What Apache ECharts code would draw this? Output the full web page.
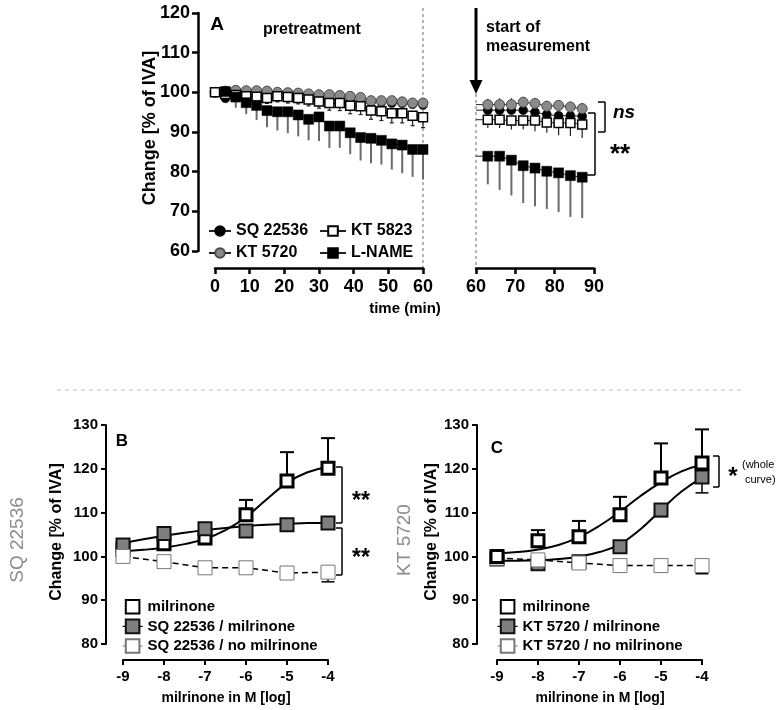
<!DOCTYPE html>
<html><head><meta charset="utf-8">
<script src="https://cdn.jsdelivr.net/npm/echarts@6/dist/echarts.min.js"></script>
<style>html,body{margin:0;padding:0;background:#fff}#c{width:784px;height:710px}</style>
</head><body><div id="c"></div>
<script>
// ---------- Panel A data ----------
const tLeft = [0,3,6,9,12,15,18,21,24,27,30,33,36,39,42,45,48,51,54,57,60];
const sqLeft = [100,98.5,99.4,99.3,99.2,99.0,98.9,98.7,98.6,98.4,98.3,98.2,98.0,97.9,97.8,97.6,97.5,97.3,97.2,97.0,96.8];
const kt5720Left = [100,100.3,100.5,100.4,100.4,100.3,100.0,99.9,99.8,99.6,99.4,99.4,99.2,99.0,98.7,97.9,97.9,97.9,97.6,97.3,97.3];
const kt5823Left = [100,99.6,99.3,99.0,98.9,98.6,99.0,98.8,98.6,98.2,97.7,97.3,97.3,96.6,96.5,95.4,95.2,94.7,94.7,94.1,93.7];
const kt5823LeftLow = [null,98.6,98.2,97.8,97.6,97.2,97.6,97.3,97.1,96.6,96.0,95.5,95.4,94.6,94.4,93.2,92.9,92.3,92.3,91.6,91.1];
const lNameLeft = [null,100.2,98.8,97.4,96.7,95.4,95.1,95.1,94.3,93.2,93.8,91.5,91.5,89.8,88.6,88.4,87.9,87.0,86.7,85.6,85.6];
const lNameLeftLow = [null,98.3,96.1,94.5,93.0,91.2,90.4,89.7,88.9,87.9,87.7,86.0,86.0,84.4,82.8,82.1,81.8,80.5,79.6,78.7,78.0];

const tRight = [60,63,66,69,72,75,78,81,84,87];
const sqRight = [95.5,95.5,95.5,95.5,95.5,95.0,94.4,94.1,94.1,94.0];
const kt5720Right = [96.9,96.9,96.9,96.9,97.5,97.2,96.5,96.7,96.3,95.9];
const kt5720RightHigh = [null,98.3,98.5,98.5,98.9,98.4,97.9,98.0,97.7,97.3];
const kt5823Right = [93.1,93.1,93.1,92.9,92.9,92.9,92.4,92.3,92.3,91.9];
const kt5823RightLow = [null,91.0,91.0,90.6,90.6,90.2,89.8,89.2,89.0,88.5];
const lNameRight = [83.9,83.9,83.9,82.9,81.5,80.9,80.1,79.7,79.0,78.6];
const lNameRightLow = [null,76.8,75.4,74.0,72.1,71.3,70.6,69.8,68.6,68.3];

const xTicksA = [0,10,20,30,40,50,60];
const yTicksA = [60,70,80,90,100,110,120];

// ---------- Panels B / C data ----------
const logM = [-9,-8,-7,-6,-5,-4];
const fitX = [-9,-8.5,-8,-7.5,-7,-6.5,-6,-5.5,-5,-4.5,-4];

const milB = [101.5,102.9,104.2,109.5,117.2,120.1];
const milBHigh = [null,null,null,112.9,123.8,127.0];
const sqMilB = [102.6,105.2,106.3,105.8,107.2,107.6];
const sqNoB = [100.0,98.8,97.4,97.4,96.2,96.4];
const sqNoBLow = [null,null,null,null,94.8,94.2];
const milBFit = [101.2,101.5,102.0,102.8,104.0,106.0,109.0,113.0,116.8,119.2,120.4];
const sqMilBFit = [103.0,103.9,104.7,105.4,106.0,106.5,106.9,107.2,107.4,107.6,107.7];

const milC = [100.0,103.6,104.5,109.5,117.9,121.3];
const milCHigh = [null,106.0,108.1,113.6,125.8,129.0];
const ktMilC = [99.4,98.3,98.8,102.2,110.6,118.1];
const ktMilCLow = [null,null,null,null,109.1,114.5];
const ktNoC = [99.6,99.2,98.5,97.9,97.9,97.9];
const ktNoCLow = [null,null,null,null,null,96.1];
const milCFit = [100.7,101.0,101.6,102.6,104.4,107.0,110.2,113.8,116.9,119.4,121.0];
const ktMilCFit = [99.0,99.0,99.1,99.4,100.0,101.0,102.8,106.2,110.6,114.8,118.0];

const FONT = '"Liberation Sans", Arial, sans-serif';

const pairs = (xs, ys) => xs.map((x,i)=> ys[i]==null ? null : [x, ys[i]]).filter(Boolean);
const errPairs = (xs, ys, ends) => xs.map((x,i)=> ends[i]==null ? null : [x, ys[i], ends[i]]).filter(Boolean);

function errSeries(gi, data, color, width, cap) {
  return {
    type:'custom', xAxisIndex:gi, yAxisIndex:gi, data, clip:false, silent:true,
    encode:{x:0, y:[1,2]},
    renderItem(params, api){
      const x=api.value(0), v=api.value(1), e=api.value(2);
      const p0=api.coord([x,v]), p1=api.coord([x,e]);
      const ch=[{type:'line', shape:{x1:p0[0],y1:p0[1],x2:p1[0],y2:p1[1]}, style:{stroke:color, lineWidth:width}}];
      if(cap) ch.push({type:'line', shape:{x1:p1[0]-cap/2,y1:p1[1],x2:p1[0]+cap/2,y2:p1[1]}, style:{stroke:color, lineWidth:width}});
      return {type:'group', children:ch};
    }
  };
}

function aSeries(name, gi, xs, ys, symbol, size, itemStyle, hideAt60) {
  return {
    name, type:'line', xAxisIndex:gi, yAxisIndex:gi, data:pairs(xs, ys), clip:false,
    symbol, symbolSize: hideAt60 ? (v => v[0]===60 ? 0 : size) : size,
    showAllSymbol:true, animation:false,
    lineStyle:{color:'#222', width:1}, itemStyle
  };
}

const stSQ = {color:'#000', borderColor:'#000', borderWidth:0.5};
const st5720 = {color:'#8a8a8a', borderColor:'#4a4a4a', borderWidth:1};
const st5823 = {color:'#fff', borderColor:'#000', borderWidth:1.5};
const stLN = {color:'#000', borderColor:'#000', borderWidth:0.5};

const stMil = {color:'#fff', borderColor:'#000', borderWidth:3};
const stGrey = {color:'#7f7f7f', borderColor:'#111', borderWidth:2};
const stNo = {color:'#fff', borderColor:'#777', borderWidth:1};

function pointSeries(name, gi, ys, style, size, lineStyle, z) {
  return {name, type:'line', xAxisIndex:gi, yAxisIndex:gi, data:pairs(logM, ys), clip:false,
    symbol:'rect', symbolSize:size, z:z, animation:false,
    lineStyle: lineStyle || {width:0}, itemStyle:style};
}
function fitSeries(name, gi, ys, z) {
  return {name, type:'line', xAxisIndex:gi, yAxisIndex:gi, data:pairs(fitX, ys), clip:false,
    symbol:'none', smooth:0.45, z:z, animation:false, silent:true,
    lineStyle:{color:'#000', width:2}};
}

const axisCommonA = {
  axisLine:{show:true, onZero:false, lineStyle:{color:'#000', width:2.5}},
  axisTick:{show:true, inside:false, length:6, lineStyle:{color:'#000', width:2.5}},
  axisLabel:{color:'#000', fontSize:18, fontWeight:'bold', fontFamily:FONT},
  splitLine:{show:false}
};
const axisCommonB = {
  axisLine:{show:true, onZero:false, lineStyle:{color:'#000', width:2}},
  axisTick:{show:true, inside:false, length:5, lineStyle:{color:'#000', width:2}},
  axisLabel:{color:'#000', fontSize:15, fontWeight:'bold', fontFamily:FONT},
  splitLine:{show:false}
};

const txt = (x, y, text, font, opts={}) => ({
  type:'text', x, y, rotation: opts.rot||0, silent:true,
  style:{text, font, fill: opts.fill||'#000', textAlign: opts.align||'center', textVerticalAlign:'middle',
         align: opts.align||'center', verticalAlign:'middle'}
});
const ln = (x1,y1,x2,y2,w,color,dash) => ({type:'line', silent:true, shape:{x1,y1,x2,y2},
  style:{stroke:color||'#000', lineWidth:w||1.5, lineDash:dash||null}});

const stubLine = {color:'#000', width:1.2, type:'solid'};
const legendBC = (left, names) => ({
  left, top:594, orient:'vertical', itemWidth:20, itemHeight:17, itemGap:4, selectedMode:false,
  data:[{name:names[0]}, {name:names[1], lineStyle:stubLine}, {name:names[2], lineStyle:{color:'#777', width:1, type:'solid'}}],
  textStyle:{fontSize:15, fontWeight:'bold', color:'#000', fontFamily:FONT}
});

const option = {
  backgroundColor:'#fff',
  animation:false,
  textStyle:{fontFamily:FONT},
  grid:[
    {left:215, top:13, width:208, height:238},
    {left:476, top:13, width:118, height:238},
    {left:123, top:425, width:205, height:219},
    {left:497, top:425, width:205, height:219}
  ],
  xAxis:[
    Object.assign({gridIndex:0, type:'value', min:0, max:60, interval:10, offset:17}, axisCommonA, {axisLabel:Object.assign({}, axisCommonA.axisLabel, {margin:10})}),
    Object.assign({gridIndex:1, type:'value', min:60, max:90, interval:10, offset:17}, axisCommonA, {axisLabel:Object.assign({}, axisCommonA.axisLabel, {margin:10})}),
    Object.assign({gridIndex:2, type:'value', min:-9, max:-4, interval:1, offset:16}, axisCommonB, {axisLabel:Object.assign({}, axisCommonB.axisLabel, {margin:9})}),
    Object.assign({gridIndex:3, type:'value', min:-9, max:-4, interval:1, offset:16}, axisCommonB, {axisLabel:Object.assign({}, axisCommonB.axisLabel, {margin:9})})
  ],
  yAxis:[
    Object.assign({gridIndex:0, type:'value', min:60, max:120, interval:10, offset:17}, axisCommonA, {axisLabel:Object.assign({}, axisCommonA.axisLabel, {margin:8})}),
    {gridIndex:1, type:'value', min:60, max:120, show:false},
    Object.assign({gridIndex:2, type:'value', min:80, max:130, interval:10, offset:17}, axisCommonB, {axisLabel:Object.assign({}, axisCommonB.axisLabel, {margin:8})}),
    Object.assign({gridIndex:3, type:'value', min:80, max:130, interval:10, offset:20}, axisCommonB, {axisLabel:Object.assign({}, axisCommonB.axisLabel, {margin:8})})
  ],
  legend:[
    {left:203, top:218, orient:'vertical', itemWidth:22, itemHeight:12, itemGap:6,
     data:['SQ 22536','KT 5720'], textStyle:{fontSize:16, fontWeight:'bold', color:'#000', fontFamily:FONT}, selectedMode:false},
    {left:314, top:218, orient:'vertical', itemWidth:26, itemHeight:12, itemGap:6,
     data:['KT 5823','L-NAME'], textStyle:{fontSize:16, fontWeight:'bold', color:'#000', fontFamily:FONT}, selectedMode:false},
    legendBC(117, ['milrinone','SQ 22536 / milrinone','SQ 22536 / no milrinone']),
    legendBC(492, ['milrinone','KT 5720 / milrinone','KT 5720 / no milrinone'])
  ],
  series:[
    // Panel A left
    aSeries('SQ 22536', 0, tLeft, sqLeft, 'circle', 9, stSQ),
    aSeries('KT 5720', 0, tLeft, kt5720Left, 'circle', 10, st5720),
    errSeries(0, errPairs(tLeft, kt5823Left, kt5823LeftLow), '#222', 1.2, 4),
    aSeries('KT 5823', 0, tLeft, kt5823Left, 'rect', 9, st5823),
    errSeries(0, errPairs(tLeft, lNameLeft, lNameLeftLow), '#6a6a6a', 2, 0),
    aSeries('L-NAME', 0, tLeft, lNameLeft, 'rect', 10, stLN),
    // Panel A right
    aSeries('SQ 22536', 1, tRight, sqRight, 'circle', 9, stSQ, true),
    errSeries(1, errPairs(tRight, kt5720Right, kt5720RightHigh), '#333', 1.2, 0),
    aSeries('KT 5720', 1, tRight, kt5720Right, 'circle', 10, st5720, true),
    errSeries(1, errPairs(tRight, kt5823Right, kt5823RightLow), '#222', 1.2, 0),
    aSeries('KT 5823', 1, tRight, kt5823Right, 'rect', 9, st5823, true),
    errSeries(1, errPairs(tRight, lNameRight, lNameRightLow), '#6a6a6a', 2, 0),
    aSeries('L-NAME', 1, tRight, lNameRight, 'rect', 10, stLN, true),
    // Panel B
    fitSeries('fitB1', 2, milBFit, 2),
    fitSeries('fitB2', 2, sqMilBFit, 2),
    errSeries(2, errPairs(logM, milB, milBHigh), '#000', 2, 14),
    pointSeries('milrinone', 2, milB, stMil, 12, null, 3),
    pointSeries('SQ 22536 / milrinone', 2, sqMilB, stGrey, 13, {width:0}, 3),
    errSeries(2, errPairs(logM, sqNoB, sqNoBLow), '#000', 1.5, 13),
    pointSeries('SQ 22536 / no milrinone', 2, sqNoB, stNo, 14, {color:'#000', width:1.5, type:[6,4]}, 3),
    // Panel C
    fitSeries('fitC1', 3, milCFit, 2),
    fitSeries('fitC2', 3, ktMilCFit, 2),
    errSeries(3, errPairs(logM, ktMilC, ktMilCLow), '#000', 1.5, 13),
    pointSeries('KT 5720 / milrinone', 3, ktMilC, stGrey, 13, {width:0}, 3),
    errSeries(3, errPairs(logM, ktNoC, ktNoCLow), '#000', 2, 13),
    pointSeries('KT 5720 / no milrinone', 3, ktNoC, stNo, 14, {color:'#000', width:1.5, type:[6,4]}, 3),
    errSeries(3, errPairs(logM, milC, milCHigh), '#000', 2, 14),
    pointSeries('milrinone', 3, milC, stMil, 12, null, 3)
  ],
  graphic:[
    // Panel A annotations
    ln(423, 8, 423, 268, 1.5, '#9a9a9a', [3,3]),
    ln(476, 94, 476, 268, 1.5, '#9a9a9a', [3,3]),
    ln(476, 8, 476, 82, 3, '#000'),
    {type:'polygon', silent:true, shape:{points:[[469.5,80],[482.5,80],[476,94]]}, style:{fill:'#000'}},
    txt(217, 25, 'A', 'bold 19px ' + FONT),
    txt(312, 30, 'pretreatment', 'bold 16px ' + FONT),
    txt(486, 28, 'start of', 'bold 16px ' + FONT, {align:'left'}),
    txt(486, 47, 'measurement', 'bold 16px ' + FONT, {align:'left'}),
    txt(150, 128, 'Change [% of IVA]', 'bold 18px ' + FONT, {rot:Math.PI/2}),
    txt(405, 309, 'time (min)', 'bold 15px ' + FONT),
    // ns bracket
    ln(598, 102, 605, 102, 1.5), ln(605, 102, 605, 132, 1.5), ln(598, 132, 605, 132, 1.5),
    txt(624, 113, 'ns', 'italic bold 19px ' + FONT),
    // ** bracket
    ln(588, 113, 595, 113, 1.5), ln(595, 113, 595, 175, 1.5), ln(586, 175, 595, 175, 1.5),
    txt(620, 155, '**', 'bold 26px ' + FONT),
    // separator
    ln(57, 390, 742, 390, 1, '#bdbdbd', [4,4]),
    // Panel B
    txt(18, 540, 'SQ 22536', '19px ' + FONT, {rot:Math.PI/2, fill:'#8c8c8c'}),
    txt(57, 532, 'Change [% of IVA]', 'bold 16px ' + FONT, {rot:Math.PI/2}),
    txt(122, 441, 'B', 'bold 17px ' + FONT),
    txt(226, 698, 'milrinone in M [log]', 'bold 14px ' + FONT),
    ln(336, 467, 342, 467, 1.5), ln(342, 467, 342, 523, 1.5), ln(336, 523, 342, 523, 1.5),
    ln(336, 528, 342, 528, 1.5), ln(342, 528, 342, 575, 1.5), ln(336, 575, 342, 575, 1.5),
    txt(361, 502, '**', 'bold 23px ' + FONT),
    txt(361, 559, '**', 'bold 23px ' + FONT),
    // Panel C
    txt(405, 540, 'KT 5720', '19px ' + FONT, {rot:Math.PI/2, fill:'#8c8c8c'}),
    txt(432, 532, 'Change [% of IVA]', 'bold 16px ' + FONT, {rot:Math.PI/2}),
    txt(497, 448, 'C', 'bold 17px ' + FONT),
    txt(600, 698, 'milrinone in M [log]', 'bold 14px ' + FONT),
    ln(713, 456, 719, 456, 1.5), ln(719, 456, 719, 487, 1.5), ln(713, 487, 719, 487, 1.5),
    txt(733, 477, '*', 'bold 24px ' + FONT),
    txt(742, 465, '(whole', '11px ' + FONT, {align:'left'}),
    txt(745, 480, 'curve)', '11px ' + FONT, {align:'left'})
  ]
};

const chart = echarts.init(document.getElementById('c'), null, {renderer:'canvas', width:784, height:710});
chart.setOption(option);
</script>
</body></html>
